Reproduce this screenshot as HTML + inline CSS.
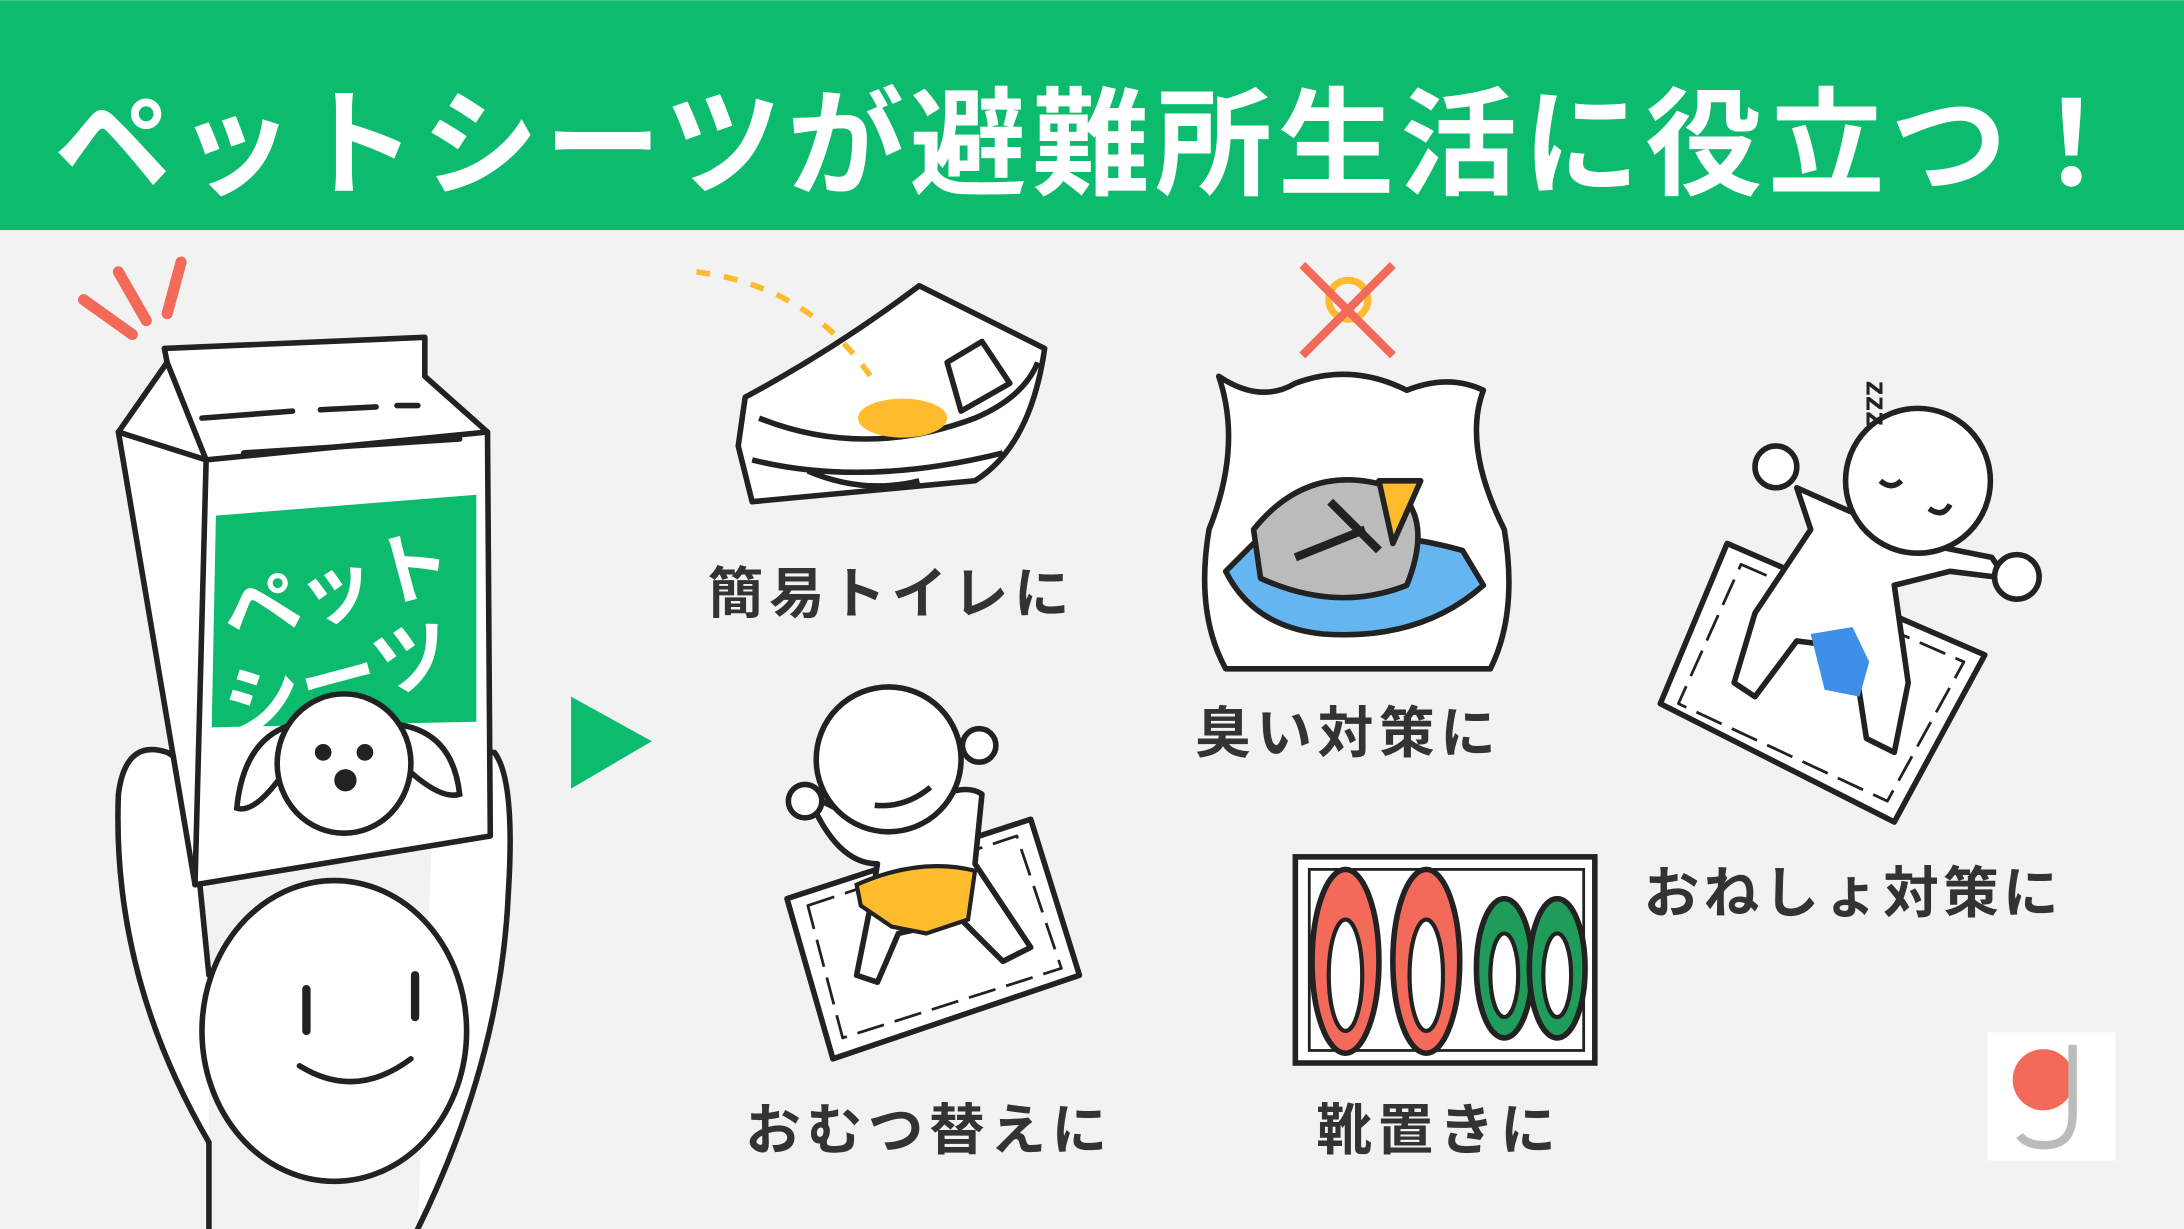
<!DOCTYPE html>
<html><head><meta charset="utf-8"><style>
html,body{margin:0;padding:0;background:#f2f2f2;}
svg{display:block;}
text{font-family:"Liberation Sans","Noto Sans CJK JP",sans-serif;}
</style></head><body>
<svg width="2184" height="1229" viewBox="0 0 1568 882" xmlns="http://www.w3.org/2000/svg">
<rect width="1568" height="882" fill="#f2f2f2"/>
<rect width="1568" height="165" fill="#0dbb6e"/>
<text x="786" y="133" text-anchor="middle" font-size="84" font-weight="bold" fill="#fff" letter-spacing="4">ペットシーツが避難所生活に役立つ！</text>

<g stroke="#222" stroke-width="4" stroke-linejoin="round" stroke-linecap="round">
<path d="M150 882 L150 820 Q80 700 85 570 Q90 530 120 540 Q140 550 140 600 L150 700" fill="#fff"/>
<path d="M310 600 Q330 540 355 540 Q370 560 365 640 Q360 760 300 882" fill="#fff"/>
<ellipse cx="240" cy="740" rx="95" ry="108" fill="#fff"/>
<path d="M220 710 L220 740 M298 700 L298 730" stroke-width="6"/>
<path d="M215 765 Q255 790 295 760" fill="none"/>
<path d="M85 310 L120 260 L118 250 L305 242 L305 270 L350 310 L352 600 L140 635 Z" fill="#fff"/>
<path d="M120 260 L148 330 L350 310 M148 330 L140 635 M85 310 L148 330" fill="none"/>
<path d="M145 300 L210 295 M230 294 L270 292 M285 291 L300 291 M175 325 L330 315" fill="none"/>
<path d="M60 215 L95 240 M85 195 L105 230 M130 188 L120 225" stroke="#f36a5a" stroke-width="8"/>
</g>
<polygon points="155,370 342,355 342,518 152,522" fill="#0dbb6e"/>
<text x="160" y="440" font-size="56" font-weight="bold" fill="#fff" transform="rotate(-15 250 430)">ペット</text>
<text x="160" y="505" font-size="56" font-weight="bold" fill="#fff" transform="rotate(-15 250 490)">シーツ</text>
<g stroke="#222" stroke-width="4" fill="#fff">
<path d="M210 520 Q175 530 170 580 Q185 585 210 545"/>
<path d="M285 520 Q325 525 330 570 Q315 575 285 545"/>
<ellipse cx="247" cy="548" rx="48" ry="50"/>
<circle cx="232" cy="540" r="4" fill="#222"/><circle cx="262" cy="540" r="4" fill="#222"/>
<circle cx="248" cy="560" r="6" fill="#222"/>
</g>
<polygon points="410,500 468,532 410,566" fill="#0dbb6e"/>

<g stroke="#222" stroke-width="4" fill="#fff" stroke-linejoin="round">
<path d="M535 285 Q600 250 660 205 L750 250 Q740 320 700 345 L540 360 L530 320 Z"/>
<path d="M545 300 Q620 330 700 300 Q735 285 745 260" fill="none"/>
<path d="M540 330 Q620 350 720 325 M580 338 Q620 355 660 345" fill="none"/>
<path d="M680 260 L705 245 L725 275 L690 295 Z"/>
</g>
<ellipse cx="648" cy="300" rx="32" ry="14" fill="#fdbb2d"/>
<path d="M500 195 Q580 205 625 270" stroke="#fdbb2d" stroke-width="4" fill="none" stroke-dasharray="10 10"/>
<text x="508" y="440" font-size="40" font-weight="bold" fill="#333" letter-spacing="4">簡易トイレに</text>

<g stroke="#222" stroke-width="4" fill="#fff" stroke-linejoin="round">
<path d="M875 270 Q905 290 930 275 Q970 260 1010 280 Q1040 268 1065 280 Q1050 320 1080 380 Q1090 440 1070 480 L880 480 Q858 440 868 380 Q892 320 875 270 Z"/>
<path d="M880 410 Q900 450 950 455 Q1020 460 1065 420 L1050 395 Q980 375 900 390 Z" fill="#64b5f0"/>
<path d="M900 380 Q940 330 1000 350 Q1030 370 1010 420 Q960 440 905 415 Z" fill="#bbb"/>
<path d="M930 400 L980 380 M955 360 L990 395" stroke-width="6"/>
<path d="M990 345 L1020 345 L1000 390 Z" fill="#fdbb2d"/>
</g>
<circle cx="968" cy="215" r="14" fill="none" stroke="#fdbb2d" stroke-width="5"/>
<path d="M935 190 L1000 255 M1000 190 L935 255" stroke="#f36a5a" stroke-width="6"/>
<text x="858" y="540" font-size="40" font-weight="bold" fill="#333" letter-spacing="4">臭い対策に</text>

<g stroke="#222" stroke-width="4" fill="#fff" stroke-linejoin="round">
<polygon points="1240,390 1425,470 1360,590 1192,505"/>
<polygon points="1250,405 1410,475 1355,575 1205,505" fill="none" stroke-width="2" stroke-dasharray="20 8"/>
<path d="M1290 350 L1300 380 L1260 440 L1245 490 L1260 500 L1290 460 L1330 465 L1340 530 L1360 540 L1370 490 L1360 420 L1400 410 L1440 415 L1430 400 L1380 390 Z"/>
<circle cx="1377" cy="345" r="52"/>
<circle cx="1275" cy="335" r="15"/><circle cx="1448" cy="414" r="16"/>
<path d="M1385 365 Q1395 372 1400 362 M1350 345 Q1358 352 1365 345" fill="none"/>
</g>
<path d="M1300 455 L1330 450 L1342 475 L1335 500 L1310 495 Z" fill="#3d8fe8"/>
<text x="1318" y="265" font-size="22" fill="#222" font-weight="bold" transform="rotate(90 1325 280)">zzz</text>
<text x="1180" y="655" font-size="40" font-weight="bold" fill="#333" letter-spacing="3">おねしょ対策に</text>

<g stroke="#222" stroke-width="4" fill="#fff" stroke-linejoin="round">
<polygon points="565,645 740,588 775,700 598,760"/>
<polygon points="580,650 730,600 762,695 605,745" fill="none" stroke-width="2" stroke-dasharray="20 8"/>
<path d="M580 570 Q600 620 630 620 L625 650 L615 700 L630 705 L645 670 L690 660 L720 690 L740 680 L700 620 L705 570 Q690 560 660 580 L600 580 Z"/>
<circle cx="638" cy="545" r="52"/>
<circle cx="578" cy="575" r="12"/><circle cx="703" cy="535" r="12"/>
<path d="M628 578 Q650 580 668 565" fill="#fff"/>
</g>
<path d="M615 635 Q660 615 700 625 L695 660 L665 670 L640 665 L618 650 Z" fill="#fdbb2d" stroke="#222" stroke-width="3"/>
<text x="535" y="825" font-size="40" font-weight="bold" fill="#333" letter-spacing="4">おむつ替えに</text>

<rect x="930" y="615" width="215" height="148" fill="#fff" stroke="#222" stroke-width="4"/>
<rect x="940" y="624" width="197" height="130" fill="none" stroke="#222" stroke-width="2"/>
<g stroke="#222" stroke-width="4">
<ellipse cx="966" cy="690" rx="24" ry="66" fill="#f36a5a"/>
<ellipse cx="1024" cy="690" rx="24" ry="66" fill="#f36a5a"/>
<ellipse cx="1080" cy="695" rx="20" ry="50" fill="#1f9c5a"/>
<ellipse cx="1118" cy="695" rx="20" ry="50" fill="#1f9c5a"/>
<ellipse cx="966" cy="700" rx="12" ry="40" fill="#fff" stroke-width="3"/>
<ellipse cx="1024" cy="700" rx="12" ry="40" fill="#fff" stroke-width="3"/>
<ellipse cx="1080" cy="700" rx="10" ry="30" fill="#fff" stroke-width="3"/>
<ellipse cx="1118" cy="700" rx="10" ry="30" fill="#fff" stroke-width="3"/>
</g>
<text x="945" y="825" font-size="40" font-weight="bold" fill="#333" letter-spacing="4">靴置きに</text>

<rect x="1427" y="741" width="92" height="92" fill="#fff"/>
<circle cx="1467" cy="775" r="22" fill="#f36a5a"/>
<path d="M1488 750 L1488 800 Q1488 822 1468 822 Q1455 822 1450 815" stroke="#bbb" stroke-width="6" fill="none"/>
</svg>
</body></html>
